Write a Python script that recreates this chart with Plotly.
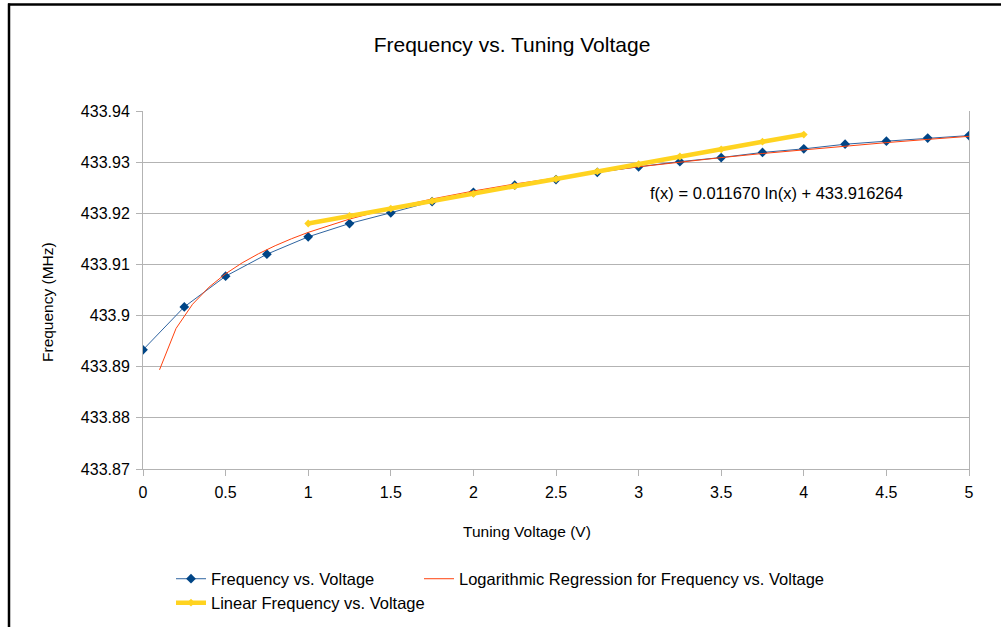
import plotly.graph_objects as go

# ---- data ----
voltage = [0, 0.25, 0.5, 0.75, 1, 1.25, 1.5, 1.75, 2, 2.25, 2.5, 2.75, 3,
           3.25, 3.5, 3.75, 4, 4.25, 4.5, 4.75, 5]
frequency = [433.8933, 433.9017, 433.9077, 433.9120, 433.9154, 433.9180,
             433.9201, 433.9223, 433.9241, 433.9255, 433.9266, 433.9280,
             433.9291, 433.9301, 433.9309, 433.9319, 433.9326, 433.9335,
             433.9341, 433.9347, 433.9352]

reg_x = [0.1, 0.2, 0.3, 0.4, 0.5, 0.6, 0.7, 0.8, 0.9, 1.0, 1.25, 1.5, 1.75,
         2.0, 2.25, 2.5, 2.75, 3.0, 3.25, 3.5, 3.75, 4.0, 4.25, 4.5, 4.75, 5.0]
reg_y = [433.889393, 433.897482, 433.902214, 433.905571, 433.908175,
         433.910303, 433.912102, 433.913660, 433.915034, 433.916264,
         433.918868, 433.920996, 433.922795, 433.924353, 433.925728,
         433.926957, 433.928069, 433.929085, 433.930019, 433.930884,
         433.931689, 433.932442, 433.933150, 433.933817, 433.934448,
         433.935046]

lin_x = [1, 1.25, 1.5, 1.75, 2, 2.25, 2.5, 2.75, 3, 3.25, 3.5, 3.75, 4]
lin_y = [433.9180, 433.9195, 433.9209, 433.9224, 433.9238, 433.9253,
         433.9267, 433.9282, 433.9296, 433.9311, 433.9325, 433.9340,
         433.9354]

y_ticks = [433.87, 433.88, 433.89, 433.90, 433.91, 433.92, 433.93, 433.94]
y_labels = ["433.87", "433.88", "433.89", "433.9", "433.91", "433.92",
            "433.93", "433.94"]
x_ticks = [0, 0.5, 1, 1.5, 2, 2.5, 3, 3.5, 4, 4.5, 5]
x_labels = ["0", "0.5", "1", "1.5", "2", "2.5", "3", "3.5", "4", "4.5", "5"]

title_text = "Frequency vs. Tuning Voltage"
x_title = "Tuning Voltage (V)"
y_title = "Frequency (MHz)"
equation = "f(x) = 0.011670 ln(x) + 433.916264"

FONT = "Liberation Sans, Arial, sans-serif"
GRID = "#b3b3b3"

fig = go.Figure()
fig.add_trace(go.Scatter(
    x=voltage, y=frequency, mode="lines+markers",
    name="Frequency vs. Voltage",
    line=dict(color="#2f64a0", width=1),
    marker=dict(symbol="diamond", size=7.5, color="#004586"),
    legend="legend"))
fig.add_trace(go.Scatter(
    x=reg_x, y=reg_y, mode="lines",
    name="Logarithmic Regression for Frequency vs. Voltage",
    line=dict(color="#ff420e", width=1),
    legend="legend3"))
fig.add_trace(go.Scatter(
    x=lin_x, y=lin_y, mode="lines+markers",
    name="Linear Frequency vs. Voltage",
    line=dict(color="#ffd320", width=4.5),
    marker=dict(symbol="diamond", size=6, color="#ffd320"),
    legend="legend2"))

L, R, T, B = 143, 32, 111, 158
W, H = 1001, 627
pw, ph = W - L - R, H - T - B


def px(xp):
    return (xp - L) / pw


def py(yp):
    return (H - B - yp) / ph


def leg(xp, yp):
    return dict(orientation="h", x=px(xp), xanchor="left",
                y=py(yp), yanchor="middle", font=dict(size=16.5),
                bgcolor="rgba(0,0,0,0)", itemwidth=30)


fig.update_layout(
    width=W, height=H,
    margin=dict(l=L, r=R, t=T, b=B, autoexpand=False),
    paper_bgcolor="white", plot_bgcolor="white",
    font=dict(family=FONT, size=16, color="#000000"),
    title=dict(text=title_text, x=512 / W, xref="container", xanchor="center",
               y=1 - 45 / H, yref="container", yanchor="middle",
               font=dict(size=21, family=FONT, color="#000000")),
    xaxis=dict(range=[0, 5], tickvals=x_ticks, ticktext=x_labels,
               showgrid=False, zeroline=False, showline=True,
               linecolor=GRID, linewidth=1, ticks="outside", ticklen=6,
               tickcolor=GRID, tickfont=dict(size=16), ticklabelstandoff=3,
               automargin=False),
    yaxis=dict(range=[433.87, 433.94], tickvals=y_ticks, ticktext=y_labels,
               showgrid=True, gridcolor=GRID, gridwidth=1, zeroline=False,
               showline=True, mirror=True, linecolor=GRID, linewidth=1,
               ticks="outside", ticklen=6, tickcolor=GRID,
               tickfont=dict(size=16), ticklabelstandoff=3,
               automargin=False),
    showlegend=True,
    legend=leg(171, 579),
    legend2=leg(171, 603),
    legend3=leg(419, 579),
    annotations=[
        dict(text=equation, x=3.057, y=433.924, xref="x", yref="y",
             xanchor="left", yanchor="middle", showarrow=False,
             font=dict(size=16.5, family=FONT, color="#000000")),
        dict(text=x_title, x=px(527), y=py(531), xref="paper", yref="paper",
             xanchor="center", yanchor="middle", showarrow=False,
             font=dict(size=15.5, family=FONT, color="#000000")),
        dict(text=y_title, x=px(47), y=py(302), xref="paper", yref="paper",
             xanchor="center", yanchor="middle", showarrow=False,
             textangle=-90,
             font=dict(size=15.5, family=FONT, color="#000000")),
    ],
    shapes=[
        dict(type="line", xref="paper", yref="paper",
             x0=px(8), x1=px(1001), y0=py(4.5), y1=py(4.5),
             line=dict(color="black", width=2.5)),
        dict(type="line", xref="paper", yref="paper",
             x0=px(9), x1=px(9), y0=py(3.5), y1=py(627),
             line=dict(color="black", width=2.5)),
    ],
)

fig.write_html("out.html")
